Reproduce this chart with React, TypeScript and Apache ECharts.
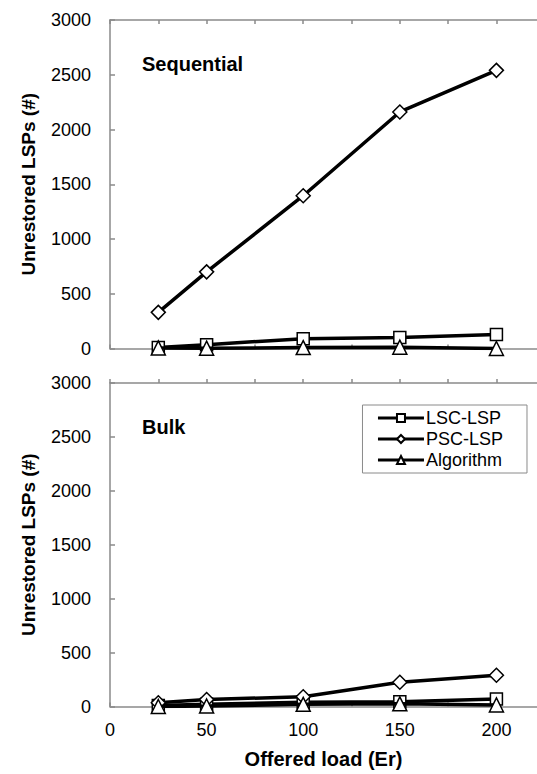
import React, { useEffect, useRef } from "react";
import * as echarts from "echarts";

const loads = [25, 50, 100, 150, 200];
const seqLSC = [10, 35, 90, 100, 128];
const seqPSC = [330, 700, 1395, 2160, 2540];
const seqAlg = [5, 3, 8, 12, 0];
const bulkLSC = [10, 20, 40, 45, 70];
const bulkPSC = [35, 65, 90, 225, 290];
const bulkAlg = [0, 5, 20, 25, 15];
const xTickValues = [0, 25, 50, 75, 100, 125, 150, 175, 200];
const xLabelValues = [0, 50, 100, 150, 200];
const seriesNames = ["LSC-LSP", "PSC-LSP", "Algorithm"];
const panelTitles = ["Sequential", "Bulk"];

const FONT = "'Liberation Sans', Arial, sans-serif";
const AXIS_GRAY = "#8a8a8a";

const pairs = (ys: number[]) => loads.map((x, i) => [x, ys[i]]);

export default function App() {
  const ref = useRef<HTMLDivElement>(null);
  useEffect(() => {
    if (!ref.current) return;
    const chart = echarts.init(ref.current, undefined, { renderer: "svg" });
    const xBase = (gridIndex: number, position: "bottom" | "top", inside: boolean, labels: boolean) => ({
      type: "value",
      gridIndex,
      position,
      min: 0,
      max: 221,
      axisLine: { show: true, onZero: false, lineStyle: { color: AXIS_GRAY, width: 1.5 } },
      axisTick: { show: true, inside, length: 4, customValues: xTickValues, lineStyle: { color: AXIS_GRAY, width: 1.5 } },
      axisLabel: labels
        ? { show: true, customValues: xLabelValues, fontSize: 18, color: "#000", fontFamily: FONT, margin: 14, formatter: (v: number) => String(v) }
        : { show: false },
      splitLine: { show: false },
    });
    const yBase = (gridIndex: number) => ({
      type: "value",
      gridIndex,
      min: 0,
      max: 3000,
      interval: 500,
      name: "Unrestored LSPs (#)",
      nameLocation: "middle",
      nameGap: 72,
      nameTextStyle: { fontSize: 19, fontWeight: "bold", color: "#000", fontFamily: FONT },
      axisLine: { show: true, lineStyle: { color: AXIS_GRAY, width: 1.5 } },
      axisTick: { show: true, inside: true, length: 5, lineStyle: { color: AXIS_GRAY, width: 1.5 } },
      axisLabel: { fontSize: 18, color: "#000", fontFamily: FONT, margin: 19, formatter: (v: number) => String(v) },
      splitLine: { show: false },
    });
    const symbols = ["rect", "diamond", "triangle"];
    const sizes = [12, 14, 14];
    const mk = (name: string, idx: number, data: number[], g: number) => ({
      type: "line",
      name,
      xAxisIndex: g * 2,
      yAxisIndex: g,
      data: pairs(data),
      symbol: symbols[idx],
      symbolSize: sizes[idx],
      showAllSymbol: true,
      lineStyle: { color: "#000", width: 3.5 },
      itemStyle: { color: "#fff", borderColor: "#000", borderWidth: 1.5 },
      z: 2 + idx,
    });
    const bottomX = { ...xBase(1, "bottom", true, true), name: "Offered load (Er)", nameLocation: "middle", nameGap: 42, nameTextStyle: { fontSize: 20, fontWeight: "bold", color: "#000", fontFamily: FONT } };
    chart.setOption({
      animation: false,
      backgroundColor: "#fff",
      textStyle: { fontFamily: FONT },
      grid: [
        { left: 110, right: 0, top: 20, height: 328.5 },
        { left: 110, right: 0, top: 383, height: 323.5 },
      ],
      xAxis: [
        xBase(0, "bottom", true, false),
        xBase(0, "top", true, false),
        bottomX,
        xBase(1, "top", false, false),
      ],
      yAxis: [yBase(0), yBase(1)],
      legend: {
        orient: "vertical",
        right: 10,
        top: 405,
        data: seriesNames,
        padding: [4, 24, 4, 14],
        itemGap: 3,
        itemWidth: 46,
        itemHeight: 10,
        lineStyle: { width: 3, color: "#000" },
        borderColor: "#8a8a8a",
        borderWidth: 1,
        borderRadius: 0,
        textStyle: { fontSize: 18, color: "#000", fontFamily: FONT, padding: [0, 0, 0, -3] },
      },
      graphic: [
        { type: "text", left: 142, top: 54, style: { text: panelTitles[0], fontSize: 20, fontWeight: "bold", fill: "#000", fontFamily: FONT } },
        { type: "text", left: 142, top: 417, style: { text: panelTitles[1], fontSize: 20, fontWeight: "bold", fill: "#000", fontFamily: FONT } },
      ],
      series: [
        mk(seriesNames[0], 0, seqLSC, 0),
        mk(seriesNames[1], 1, seqPSC, 0),
        mk(seriesNames[2], 2, seqAlg, 0),
        mk(seriesNames[0], 0, bulkLSC, 1),
        mk(seriesNames[1], 1, bulkPSC, 1),
        mk(seriesNames[2], 2, bulkAlg, 1),
      ],
    });
    return () => chart.dispose();
  }, []);
  return <div ref={ref} style={{ position: "absolute", left: 0, top: 0, width: 537, height: 774 }} />;
}
